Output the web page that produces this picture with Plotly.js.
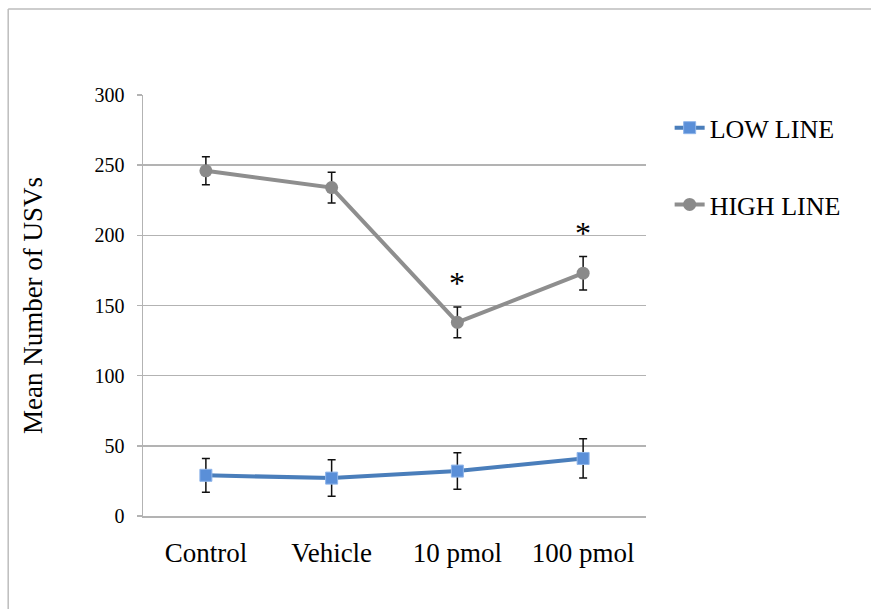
<!DOCTYPE html>
<html>
<head>
<meta charset="utf-8">
<script src="https://cdn.plot.ly/plotly-3.0.1.min.js"></script>
<style>
html,body{margin:0;padding:0;background:#fff;}
#chart{width:871px;height:609px;}
</style>
</head>
<body>
<div id="chart"></div>
<script>
const categories = ["Control", "Vehicle", "10 pmol", "100 pmol"];
const lowLine = [29, 27, 32, 41];
const lowErr = [12, 13, 13, 14];
const highLine = [246, 234, 138, 173];
const highErr = [10, 11, 11, 12];
const yTicks = [0, 50, 100, 150, 200, 250, 300];
const starCats = ["10 pmol", "100 pmol"];
const starY = [166, 202];

const serif = "Liberation Serif, Times New Roman, serif";

const traces = [
  {
    x: categories, y: lowLine, name: "LOW LINE", type: "scatter", mode: "lines+markers",
    legendgroup: "low",
    line: {color: "#4a7ebb", width: 4},
    marker: {symbol: "square", size: 12, color: "#5a8fd8", line: {color: "#8fb5ea", width: 1}},
    error_y: {type: "data", array: lowErr, visible: true, color: "#111", thickness: 1.5, width: 4}
  },
  {
    x: categories, y: highLine, name: "HIGH LINE", type: "scatter", mode: "lines+markers",
    legendgroup: "high",
    line: {color: "#8e8e8e", width: 4},
    marker: {symbol: "circle", size: 13, color: "#8a8a8a"},
    error_y: {type: "data", array: highErr, visible: true, color: "#111", thickness: 1.5, width: 4}
  }
];

const annotations = starCats.map((c, i) => ({
  x: c, y: starY[i], xref: "x", yref: "y", text: "*", showarrow: false,
  font: {family: serif, size: 32, color: "#000"}
}));

const layout = {
  width: 871, height: 609,
  margin: {l: 143, r: 225, t: 95, b: 93},
  paper_bgcolor: "#fff", plot_bgcolor: "#fff",
  showlegend: true,
  legend: {
    x: 1.047, y: 0.978, xanchor: "left", yanchor: "top",
    font: {family: serif, size: 26, color: "#000"},
    traceorder: "grouped", tracegroupgap: 40,
    bgcolor: "rgba(0,0,0,0)"
  },
  xaxis: {
    type: "category", categoryarray: categories, range: [-0.5, 3.5],
    showgrid: false, showline: true, linecolor: "#b3b3b3", linewidth: 1.5,
    ticks: "", tickfont: {family: serif, size: 27, color: "#000"},
    ticklabelstandoff: 12, zeroline: false, fixedrange: true
  },
  yaxis: {
    range: [0, 300], tickvals: yTicks, ticktext: yTicks.map(String),
    showgrid: true, gridcolor: "#b3b3b3", gridwidth: 1.5,
    showline: true, linecolor: "#b3b3b3", linewidth: 1.5,
    ticks: "outside", ticklen: 5, tickcolor: "#b3b3b3", tickwidth: 1.5,
    tickfont: {family: serif, size: 20, color: "#000"},
    ticklabelstandoff: 8, zeroline: false,
    title: {text: "Mean Number of USVs", font: {family: serif, size: 27, color: "#000"}, standoff: 44},
    automargin: false
  },
  annotations: annotations,
  shapes: [
    {type: "line", xref: "paper", yref: "paper", x0: -0.268, x1: 1.5, y0: 1.204, y1: 1.204, line: {color: "#bdbdbd", width: 1.5}},
    {type: "line", xref: "paper", yref: "paper", x0: -0.268, x1: -0.268, y0: 1.204, y1: -0.3, line: {color: "#bdbdbd", width: 1.5}}
  ]
};

Plotly.newPlot("chart", traces, layout, {displayModeBar: false, staticPlot: true});
</script>
</body>
</html>
